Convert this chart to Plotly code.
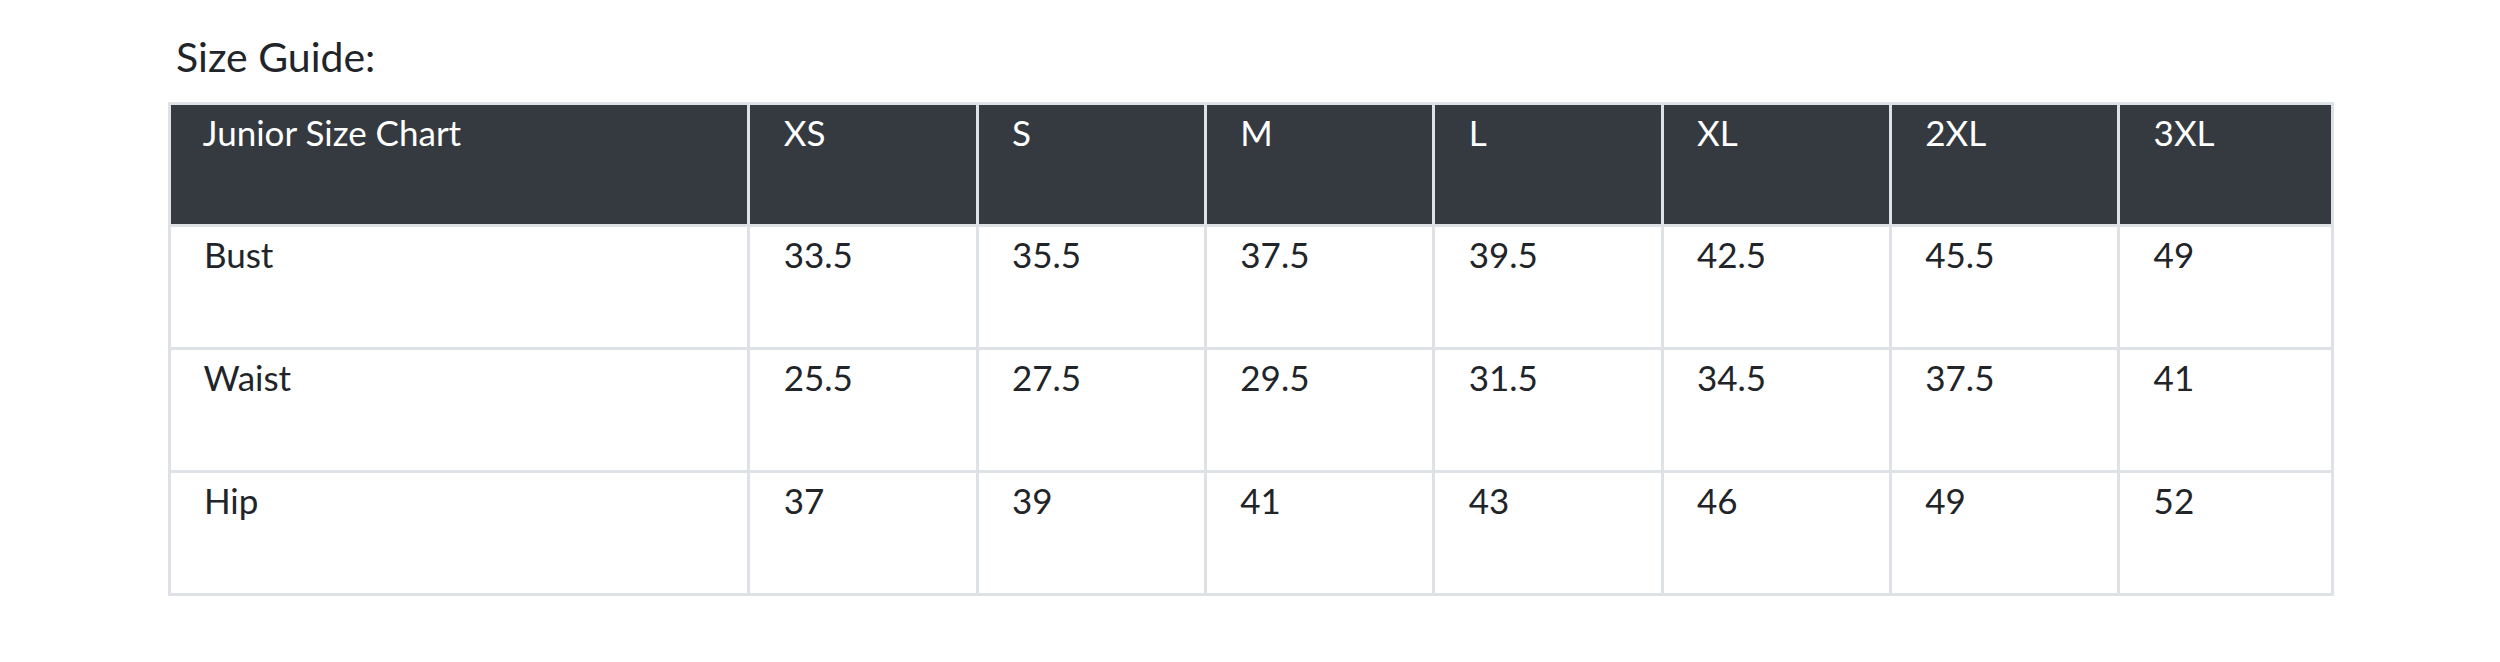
import plotly.graph_objects as go

title = "Size Guide:"
header = ["Junior Size Chart", "XS", "S", "M", "L", "XL", "2XL", "3XL"]
measures = ["Bust", "Waist", "Hip"]
bust = ["33.5", "35.5", "37.5", "39.5", "42.5", "45.5", "49"]
waist = ["25.5", "27.5", "29.5", "31.5", "34.5", "37.5", "41"]
hip = ["37", "39", "41", "43", "46", "49", "52"]

W, H = 2500, 662
pad = "   "
pre = "<br>"
rows = [bust, waist, hip]
columns = [[pre + pad + m for m in measures]] + [[pre + pad + r[i] for r in rows] for i in range(len(bust))]

fig = go.Figure(go.Table(
    domain=dict(x=[161 / W, 2325 / W], y=[1 - 589 / H, 1 - 95 / H]),
    columnwidth=[579, 228, 228, 228, 228, 228, 228, 214],
    header=dict(values=[pre + pad + h for h in header], fill_color="#343a40",
                line=dict(color="#dee2e6", width=3), align="left", height=122,
                font=dict(family="Lato, Noto Sans", size=35, color="white")),
    cells=dict(values=columns, fill_color="white",
               line=dict(color="#dee2e6", width=3), align="left", height=123,
               font=dict(family="Lato, Noto Sans", size=35, color="#212529")),
))
fig.add_annotation(text=title, xref="paper", yref="paper", x=166 / W, y=1 - 48 / H,
                   xanchor="left", yanchor="middle", showarrow=False,
                   font=dict(family="Lato, Noto Sans", size=41, color="#212529"))
fig.update_layout(width=W, height=H, margin=dict(l=0, r=0, t=0, b=0),
                  paper_bgcolor="white", plot_bgcolor="white")
fig.write_html("out.html")
